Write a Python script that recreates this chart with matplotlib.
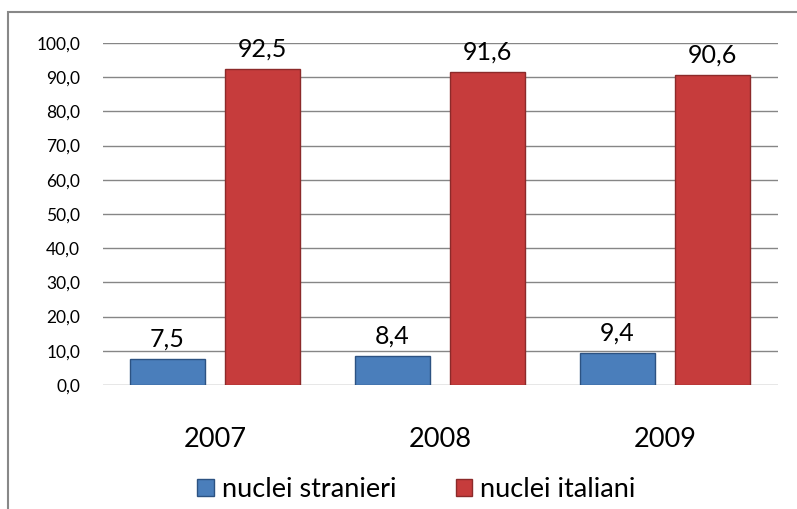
import matplotlib.pyplot as plt
from matplotlib.patches import Rectangle
import numpy as np

plt.rcParams['font.family'] = ['Lato', 'DejaVu Sans']

years = ['2007', '2008', '2009']
stranieri = [7.5, 8.4, 9.4]
italiani = [92.5, 91.6, 90.6]
series_names = ['nuclei stranieri', 'nuclei italiani']

fig = plt.figure(figsize=(7.97, 5.09), dpi=100)
# outer chart border (cut off at right/bottom)
fig.patches.append(Rectangle((8 / 797, -0.1), 1.0, (509 - 12) / 509 + 0.1,
                             transform=fig.transFigure, fill=False,
                             edgecolor='#888888', linewidth=1.5))

ax = fig.add_axes([102.5 / 797, 124 / 509, 675 / 797, 342 / 509])

x = np.arange(len(years))
w = 0.333
off = 0.211
b1 = ax.bar(x - off, stranieri, w, color='#4a7ebb', edgecolor='#2c5282',
            linewidth=1, label=series_names[0], zorder=3)
b2 = ax.bar(x + off, italiani, w, color='#c63c3c', edgecolor='#8c2a2a',
            linewidth=1, label=series_names[1], zorder=3)

for bars in (b1, b2):
    for r in bars:
        h = r.get_height()
        ax.annotate(f'{h:.1f}'.replace('.', ','), (r.get_x() + r.get_width() / 2, h),
                    xytext=(0, 6), textcoords='offset points',
                    ha='center', va='bottom', fontsize=18)

ax.set_xlim(-0.5, 2.5)
ax.set_ylim(0, 100)
ax.set_yticks(np.arange(0, 101, 10))
ax.set_yticklabels([f'{v:.1f}'.replace('.', ',') for v in np.arange(0, 101, 10)],
                   fontsize=12.5)
ax.set_xticks(x)
ax.set_xticklabels(years, fontsize=19.5)
ax.tick_params(axis='x', length=0, pad=30)
ax.tick_params(axis='y', length=0, pad=16)
ax.grid(axis='y', color='#868686', linewidth=1, zorder=0)
for s in ax.spines.values():
    s.set_visible(False)

ax.legend(loc='center', bbox_to_anchor=(0.465, -0.305), ncol=2,
          frameon=False, fontsize=19.5, handlelength=0.6, handleheight=0.6,
          handletextpad=0.3, columnspacing=2.2)

fig.savefig('out.png', dpi=100)
